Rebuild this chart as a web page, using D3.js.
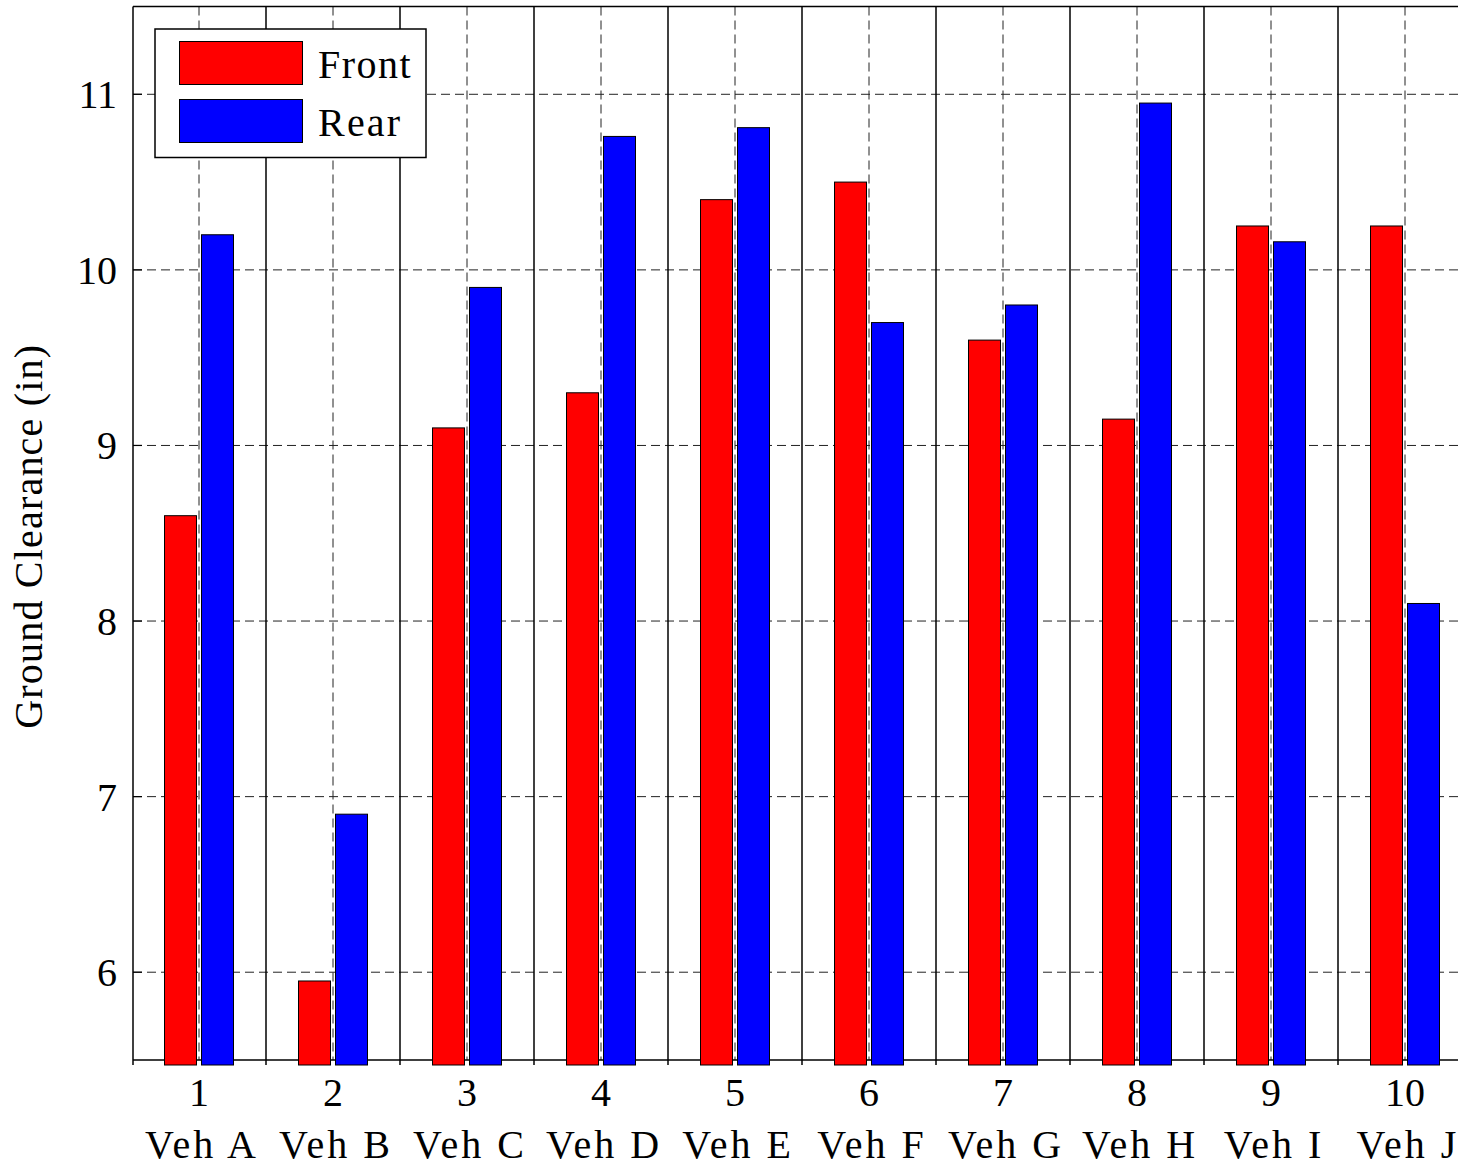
<!DOCTYPE html>
<html>
<head>
<meta charset="utf-8">
<script src="https://cdn.jsdelivr.net/npm/d3@7"></script>
<style>
  html, body { margin: 0; padding: 0; background: #fff; }
  svg { display: block; }
  text { font-family: "Liberation Serif", "Times New Roman", serif; fill: #000; }
</style>
</head>
<body>
<svg id="chart" width="1458" height="1169"></svg>
<script>
// Ground clearance per vehicle, front and rear axle (inches)
const positions = [1, 2, 3, 4, 5, 6, 7, 8, 9, 10];
const vehicles = ["Veh A", "Veh B", "Veh C", "Veh D", "Veh E", "Veh F", "Veh G", "Veh H", "Veh I", "Veh J"];
const front = [8.6, 5.95, 9.1, 9.3, 10.4, 10.5, 9.6, 9.15, 10.25, 10.25];
const rear = [10.2, 6.9, 9.9, 10.76, 10.81, 9.7, 9.8, 10.95, 10.16, 8.1];
const yTicks = [6, 7, 8, 9, 10, 11];
const seriesNames = ["Front", "Rear"];
const seriesColors = ["#ff0000", "#0000ff"];

const svg = d3.select("#chart");
const plotLeft = 133, plotTop = 6.5, plotBottom = 1060;

const x = d3.scaleLinear().domain([0.5, 10.5]).range([132, 1472]);
const y = d3.scaleLinear().domain([5.5, 11.5]).range([plotBottom, plotTop]);

const grid = svg.append("g");

// dashed horizontal grid
grid.selectAll("line.hg").data(yTicks).join("line")
  .attr("x1", plotLeft).attr("x2", 1458)
  .attr("y1", d => y(d)).attr("y2", d => y(d))
  .attr("stroke", "#222").attr("stroke-width", 1)
  .attr("stroke-dasharray", "9,5");

// dashed vertical grid at category centres
grid.selectAll("line.vg").data(positions).join("line")
  .attr("x1", d => x(d)).attr("x2", d => x(d))
  .attr("y1", plotTop).attr("y2", plotBottom)
  .attr("stroke", "#222").attr("stroke-width", 1)
  .attr("stroke-dasharray", "9,5");

// solid separators between categories
const seps = d3.range(1.5, 10.5, 1);
grid.selectAll("line.sep").data(seps).join("line")
  .attr("x1", d => x(d)).attr("x2", d => x(d))
  .attr("y1", plotTop).attr("y2", plotBottom + 5)
  .attr("stroke", "#000").attr("stroke-width", 1.5);

// axis frame
svg.append("line").attr("x1", plotLeft).attr("x2", 1458).attr("y1", plotTop).attr("y2", plotTop)
  .attr("stroke", "#000").attr("stroke-width", 1.5);
svg.append("line").attr("x1", plotLeft).attr("x2", plotLeft).attr("y1", plotTop).attr("y2", plotBottom + 5)
  .attr("stroke", "#000").attr("stroke-width", 1.5);
svg.append("line").attr("x1", plotLeft).attr("x2", 1458).attr("y1", plotBottom).attr("y2", plotBottom)
  .attr("stroke", "#000").attr("stroke-width", 1.5);

// y ticks (inward) and labels
const yAxis = svg.append("g");
yAxis.selectAll("line").data(yTicks).join("line")
  .attr("x1", plotLeft).attr("x2", plotLeft + 9)
  .attr("y1", d => y(d)).attr("y2", d => y(d))
  .attr("stroke", "#000").attr("stroke-width", 1.2);
yAxis.selectAll("text").data(yTicks).join("text")
  .attr("x", 117).attr("y", d => y(d))
  .attr("dy", "0.35em")
  .attr("text-anchor", "end")
  .attr("font-size", 40)
  .text(d => d);

// y axis title
svg.append("text")
  .attr("transform", `translate(42,${(plotTop + plotBottom) / 2 + 3}) rotate(-90)`)
  .attr("text-anchor", "middle")
  .attr("font-size", 40)
  .attr("letter-spacing", 1.2)
  .text("Ground Clearance (in)");

// x tick labels: index and vehicle name
const xl = svg.append("g");
xl.selectAll("text.num").data(positions).join("text")
  .attr("class", "num")
  .attr("x", d => x(d)).attr("y", 1106)
  .attr("text-anchor", "middle").attr("font-size", 40)
  .text(d => d);
xl.selectAll("text.veh").data(positions).join("text")
  .attr("class", "veh")
  .attr("x", d => x(d) + 3).attr("y", 1158)
  .attr("text-anchor", "middle").attr("font-size", 40)
  .attr("letter-spacing", 3)
  .text((d, i) => vehicles[i]);

// grouped bars
const barW = 32;
const offsets = [-34.5, 2.5];
[front, rear].forEach((vals, s) => {
  svg.append("g").selectAll("rect").data(vals).join("rect")
    .attr("x", (d, i) => x(positions[i]) + offsets[s])
    .attr("y", d => y(d))
    .attr("width", barW)
    .attr("height", d => y(5.5) + 5 - y(d))
    .attr("fill", seriesColors[s])
    .attr("stroke", "#000").attr("stroke-width", 1);
});

// legend
const lg = svg.append("g");
lg.append("rect").attr("x", 155).attr("y", 29).attr("width", 271).attr("height", 128.5)
  .attr("fill", "#fff").attr("stroke", "#000").attr("stroke-width", 1.5);
seriesNames.forEach((name, i) => {
  lg.append("rect").attr("x", 179.5).attr("y", 41.5 + i * 58).attr("width", 123).attr("height", 43)
    .attr("fill", seriesColors[i]).attr("stroke", "#000").attr("stroke-width", 1);
  lg.append("text").attr("x", 318).attr("y", 77.5 + i * 58.5)
    .attr("font-size", 40).attr("letter-spacing", i === 0 ? 1.5 : 2.2)
    .text(name);
});
</script>
</body>
</html>
